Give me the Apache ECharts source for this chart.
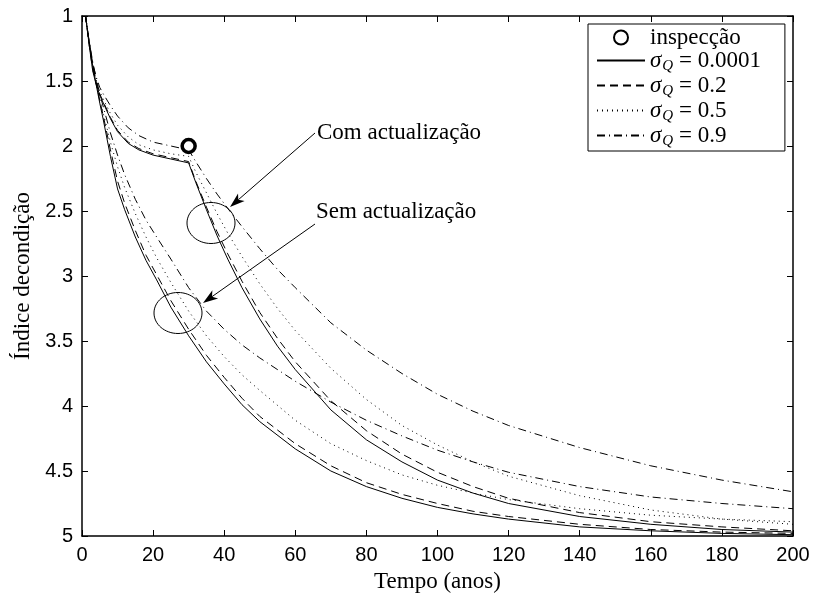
<!DOCTYPE html>
<html>
<head>
<meta charset="utf-8">
<script src="https://cdn.jsdelivr.net/npm/echarts@6/dist/echarts.min.js"></script>
<style>
  html, body { margin: 0; padding: 0; background: #fff; }
  #chart { width: 815px; height: 598px; }
</style>
</head>
<body>
<div id="chart"></div>
<script>
// sigma labels for the legend
const sigmaLabels = ["0.0001", "0.2", "0.5", "0.9"];

// Sem actualização (no update) - time grid and values
const tSem = [1, 2, 3, 4, 5, 6, 8, 10, 12, 15, 18, 21, 25, 30, 35, 40, 45, 50, 60, 70, 80, 90, 100, 110, 120, 140, 160, 180, 200];
const sem0 = [1.00, 1.20, 1.38, 1.53, 1.67, 1.80, 2.08, 2.33, 2.49, 2.70, 2.88, 3.03, 3.24, 3.46, 3.66, 3.83, 3.99, 4.12, 4.33, 4.50, 4.62, 4.71, 4.78, 4.83, 4.87, 4.93, 4.96, 4.98, 4.99];
const sem2 = [1.00, 1.19, 1.37, 1.51, 1.65, 1.77, 2.03, 2.27, 2.44, 2.65, 2.84, 2.99, 3.19, 3.41, 3.61, 3.78, 3.94, 4.08, 4.29, 4.46, 4.59, 4.68, 4.75, 4.81, 4.85, 4.91, 4.95, 4.97, 4.98];
const sem5 = [1.00, 1.20, 1.37, 1.51, 1.64, 1.75, 1.97, 2.16, 2.32, 2.52, 2.70, 2.86, 3.05, 3.27, 3.46, 3.62, 3.76, 3.88, 4.11, 4.29, 4.42, 4.53, 4.61, 4.67, 4.72, 4.79, 4.84, 4.87, 4.89];
const sem9 = [1.00, 1.19, 1.35, 1.48, 1.60, 1.70, 1.90, 2.07, 2.22, 2.41, 2.57, 2.70, 2.87, 3.09, 3.27, 3.41, 3.53, 3.63, 3.81, 3.97, 4.11, 4.23, 4.34, 4.43, 4.51, 4.62, 4.70, 4.75, 4.79];

// Com actualização (updated at inspection, t = 30)
const tCom = [1, 2, 3, 4, 5, 6, 8, 10, 13, 16, 20, 25, 30, 32, 35, 38, 41, 45, 50, 55, 60, 70, 80, 90, 100, 110, 120, 140, 160, 180, 200];
const com0 = [1.00, 1.22, 1.42, 1.53, 1.61, 1.67, 1.79, 1.89, 1.98, 2.03, 2.07, 2.10, 2.13, 2.28, 2.49, 2.69, 2.87, 3.09, 3.33, 3.54, 3.72, 4.03, 4.26, 4.43, 4.57, 4.67, 4.75, 4.85, 4.91, 4.95, 4.97];
const com2 = [1.00, 1.22, 1.41, 1.52, 1.60, 1.66, 1.78, 1.88, 1.97, 2.02, 2.06, 2.09, 2.12, 2.27, 2.47, 2.66, 2.83, 3.04, 3.28, 3.48, 3.66, 3.96, 4.19, 4.37, 4.51, 4.62, 4.71, 4.82, 4.89, 4.93, 4.96];
const com5 = [1.00, 1.21, 1.40, 1.50, 1.58, 1.64, 1.75, 1.84, 1.93, 1.99, 2.03, 2.06, 2.08, 2.20, 2.36, 2.52, 2.67, 2.85, 3.06, 3.25, 3.42, 3.71, 3.95, 4.15, 4.30, 4.43, 4.54, 4.69, 4.80, 4.87, 4.91];
const com9 = [1.00, 1.20, 1.37, 1.47, 1.55, 1.60, 1.69, 1.77, 1.86, 1.92, 1.97, 2.00, 2.03, 2.12, 2.25, 2.37, 2.48, 2.62, 2.79, 2.95, 3.09, 3.36, 3.57, 3.75, 3.91, 4.04, 4.15, 4.32, 4.46, 4.57, 4.66];

// inspection
const inspT = [30];
const inspV = [2];

const dashes = ["solid", [8, 5], [1, 4], [8, 4, 1, 4]];
const semData = [sem0, sem2, sem5, sem9];
const comData = [com0, com2, com5, com9];

const pairs = (xs, ys) => xs.map((x, i) => [x, ys[i]]);

const chart = echarts.init(document.getElementById("chart"));

const series = [];
sigmaLabels.forEach((lab, i) => {
  const name = "σQ = " + lab;
  [[tSem, semData[i]], [tCom, comData[i]]].forEach(([xs, ys]) => {
    series.push({
      name: name,
      type: "line",
      data: pairs(xs, ys),
      symbol: "none",
      silent: true,
      lineStyle: { color: "#000", width: 1, type: dashes[i] },
      itemStyle: { color: "#000" },
    });
  });
});
series.unshift({
  name: "inspecção",
  type: "scatter",
  data: pairs(inspT, inspV),
  symbol: "circle",
  symbolSize: 13,
  itemStyle: { color: "#fff", borderColor: "#000", borderWidth: 3.5, opacity: 1 },
  z: 5,
});

const serif = "Liberation Serif";
const sans = "Liberation Sans";

function arrow(x1, y1, x2, y2) {
  const dx = x2 - x1, dy = y2 - y1;
  const len = Math.sqrt(dx * dx + dy * dy);
  const ux = dx / len, uy = dy / len;
  const bx = x2 - 15 * ux, by = y2 - 15 * uy;
  const nx = -uy, ny = ux;
  return [
    { type: "line", shape: { x1: x1, y1: y1, x2: bx + 4 * ux, y2: by + 4 * uy }, style: { stroke: "#000", lineWidth: 1 } },
    {
      type: "polygon",
      shape: { points: [[x2, y2], [bx + 5 * nx, by + 5 * ny], [bx + 4 * ux, by + 4 * uy], [bx - 5 * nx, by - 5 * ny]] },
      style: { fill: "#000" },
    },
  ];
}

const legendData = [{ name: "inspecção" }].concat(
  sigmaLabels.map((l) => ({ name: "σQ = " + l, itemStyle: { opacity: 0 } }))
);

const option = {
  animation: false,
  backgroundColor: "#fff",
  grid: { left: 82, right: 22, top: 16, bottom: 56 },
  legend: {
    orient: "vertical",
    left: 588,
    top: 24,
    itemWidth: 48,
    itemHeight: 14,
    itemGap: 0,
    padding: [2, 24, 2, 8],
    backgroundColor: "#fff",
    borderColor: "#000",
    borderWidth: 1,
    data: legendData,
    formatter: (name) => {
      if (name === "inspecção") return "{t|" + name + "}";
      return "{s|σ}{q|Q}{t| = " + name.slice(5) + "}";
    },
    textStyle: {
      color: "#000",
      fontFamily: serif,
      fontSize: 23,
      rich: {
        t: { fontFamily: serif, fontSize: 23, lineHeight: 24.5, color: "#000" },
        s: { fontFamily: serif, fontSize: 23, lineHeight: 24.5, fontStyle: "italic", color: "#000" },
        q: { fontFamily: serif, fontSize: 15, fontStyle: "italic", color: "#000", padding: [12, 0, 0, 1] },
      },
    },
  },
  xAxis: [
    {
      type: "value",
      min: 0,
      max: 200,
      interval: 20,
      position: "bottom",
      axisLine: { onZero: false, lineStyle: { color: "#000", width: 1.5 } },
      axisTick: { inside: true, length: 6, lineStyle: { color: "#000" } },
      axisLabel: { color: "#000", fontFamily: sans, fontSize: 20, margin: 9 },
      splitLine: { show: false },
      name: "Tempo (anos)",
      nameLocation: "middle",
      nameGap: 34,
      nameTextStyle: { color: "#000", fontFamily: serif, fontSize: 23 },
    },
    {
      type: "value",
      min: 0,
      max: 200,
      interval: 20,
      position: "top",
      axisLine: { onZero: false, lineStyle: { color: "#000", width: 1.5 } },
      axisTick: { inside: true, length: 6, lineStyle: { color: "#000" } },
      axisLabel: { show: false },
      splitLine: { show: false },
    },
  ],
  yAxis: [
    {
      type: "value",
      min: 1,
      max: 5,
      interval: 0.5,
      inverse: true,
      position: "left",
      axisLine: { onZero: false, lineStyle: { color: "#000", width: 1.5 } },
      axisTick: { inside: true, length: 6, lineStyle: { color: "#000" } },
      axisLabel: { color: "#000", fontFamily: sans, fontSize: 20, margin: 9 },
      splitLine: { show: false },
      name: "Índice decondição",
      nameLocation: "middle",
      nameGap: 41,
      nameRotate: 90,
      nameTextStyle: { color: "#000", fontFamily: serif, fontSize: 23 },
    },
    {
      type: "value",
      min: 1,
      max: 5,
      interval: 0.5,
      inverse: true,
      position: "right",
      axisLine: { onZero: false, lineStyle: { color: "#000", width: 1.5 } },
      axisTick: { inside: true, length: 6, lineStyle: { color: "#000" } },
      axisLabel: { show: false },
      splitLine: { show: false },
    },
  ],
  series: series,
  graphic: [
    { type: "text", x: 317, y: 133, style: { text: "Com actualização", font: "23px 'Liberation Serif'", fill: "#000", verticalAlign: "middle" } },
    { type: "text", x: 316, y: 212, style: { text: "Sem actualização", font: "23px 'Liberation Serif'", fill: "#000", verticalAlign: "middle" } },
    { type: "ellipse", shape: { cx: 211, cy: 223, rx: 24, ry: 20.5 }, style: { fill: "none", stroke: "#000", lineWidth: 1 } },
    { type: "ellipse", shape: { cx: 178, cy: 313, rx: 24, ry: 20.5 }, style: { fill: "none", stroke: "#000", lineWidth: 1 } },
  ]
    .concat(arrow(315, 133, 230, 207))
    .concat(arrow(315, 224, 203, 303)),
};

chart.setOption(option);
</script>
</body>
</html>
